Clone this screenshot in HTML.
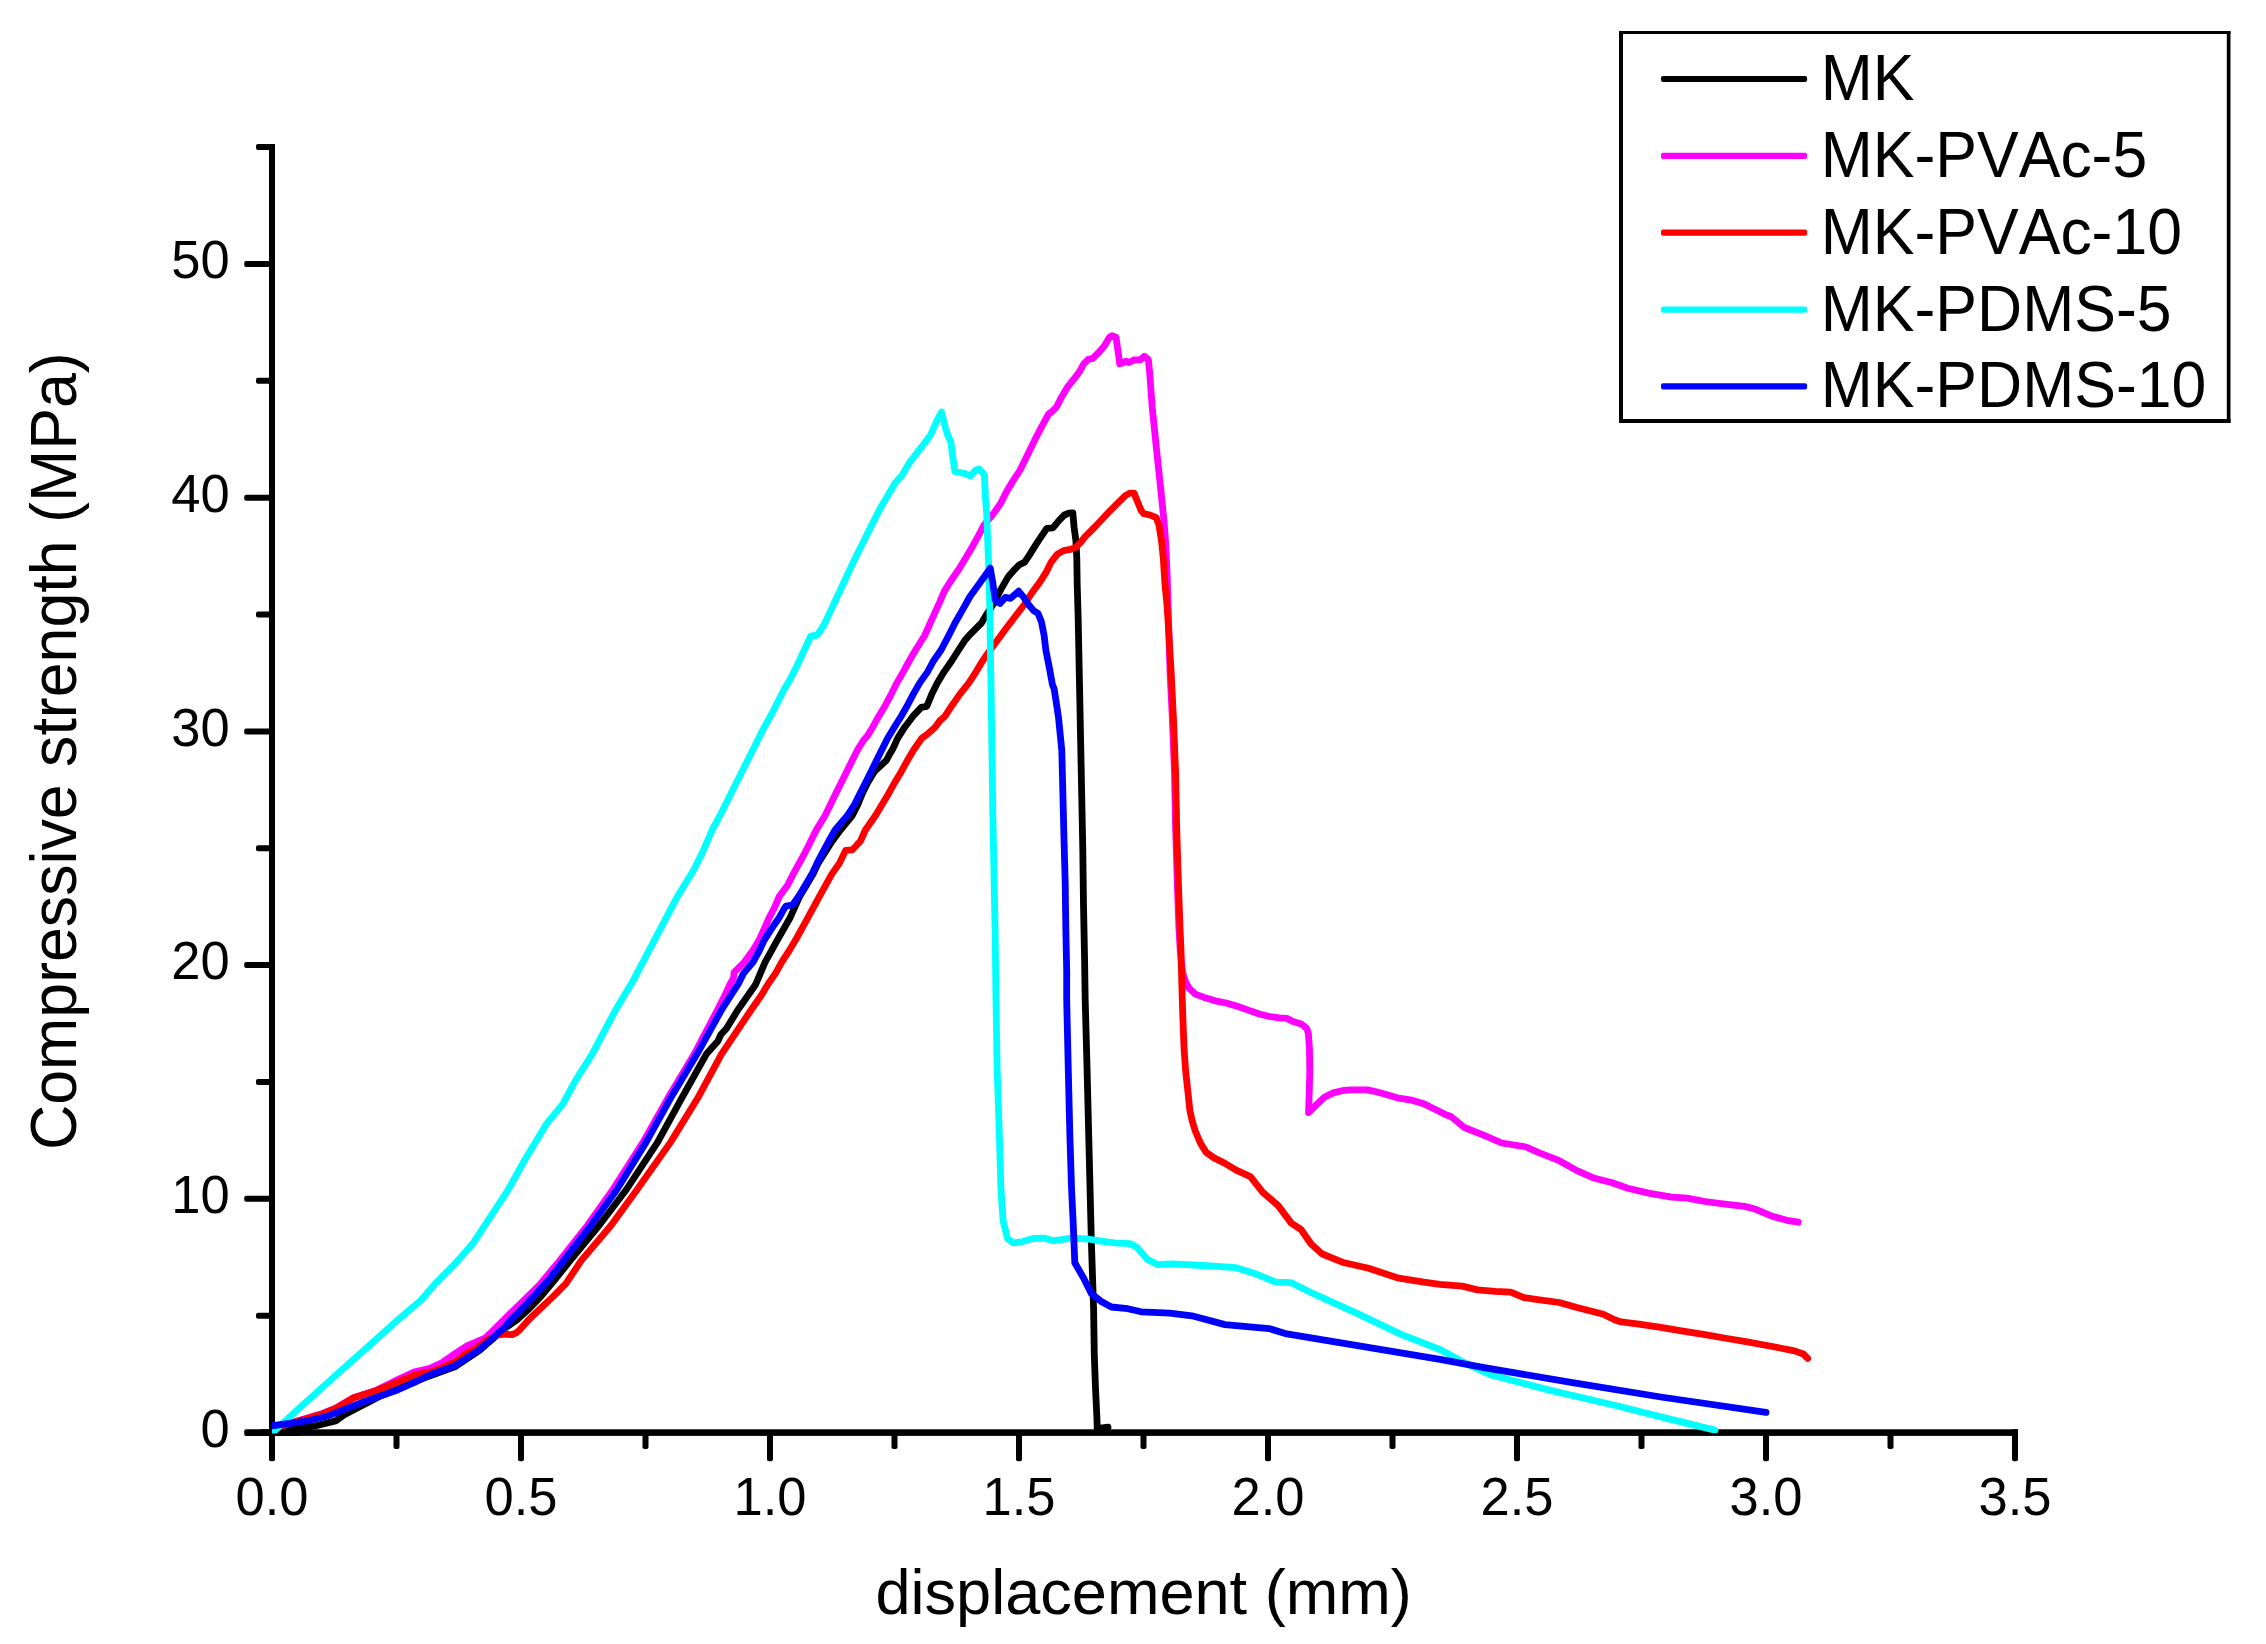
<!DOCTYPE html>
<html lang="en"><head><meta charset="utf-8"><title>Compressive strength vs displacement</title>
<style>html,body{margin:0;padding:0;background:#fff}body{width:2266px;height:1644px;overflow:hidden}svg{display:block}text{font-family:"Liberation Sans",Arial,Helvetica,sans-serif;fill:#000;font-kerning:none}</style>
</head><body>
<svg width="2266" height="1644" viewBox="0 0 2266 1644">
<defs><clipPath id="plot"><rect x="272" y="100" width="1760" height="1333.6"/></clipPath></defs>
<rect x="0" y="0" width="2266" height="1644" fill="#fff"/>
<g fill="#000">
<rect x="269" y="144" width="6" height="1300"/>
<rect x="269.00" y="1400.00" width="6.00" height="61.20" rx="2"/>
<rect x="260" y="1429.30" width="1758" height="6.60"/>
<rect x="244.20" y="1429.30" width="55.80" height="6.60" rx="2"/>
<rect x="256.00" y="1312.73" width="16.00" height="6.00" rx="2"/>
<rect x="244.20" y="1195.86" width="27.80" height="6.00" rx="2"/>
<rect x="256.00" y="1078.99" width="16.00" height="6.00" rx="2"/>
<rect x="244.20" y="962.12" width="27.80" height="6.00" rx="2"/>
<rect x="256.00" y="845.25" width="16.00" height="6.00" rx="2"/>
<rect x="244.20" y="728.38" width="27.80" height="6.00" rx="2"/>
<rect x="256.00" y="611.51" width="16.00" height="6.00" rx="2"/>
<rect x="244.20" y="494.64" width="27.80" height="6.00" rx="2"/>
<rect x="256.00" y="377.77" width="16.00" height="6.00" rx="2"/>
<rect x="244.20" y="260.90" width="27.80" height="6.00" rx="2"/>
<rect x="262.00" y="144.03" width="13.00" height="6.00"/>
<rect x="256.00" y="144.03" width="14.00" height="6.00" rx="2"/>
<rect x="393.50" y="1432.60" width="6.00" height="16.30" rx="2"/>
<rect x="518.00" y="1432.60" width="6.00" height="28.60" rx="2"/>
<rect x="642.50" y="1432.60" width="6.00" height="16.30" rx="2"/>
<rect x="767.00" y="1432.60" width="6.00" height="28.60" rx="2"/>
<rect x="891.50" y="1432.60" width="6.00" height="16.30" rx="2"/>
<rect x="1016.00" y="1432.60" width="6.00" height="28.60" rx="2"/>
<rect x="1140.50" y="1432.60" width="6.00" height="16.30" rx="2"/>
<rect x="1265.00" y="1432.60" width="6.00" height="28.60" rx="2"/>
<rect x="1389.50" y="1432.60" width="6.00" height="16.30" rx="2"/>
<rect x="1514.00" y="1432.60" width="6.00" height="28.60" rx="2"/>
<rect x="1638.50" y="1432.60" width="6.00" height="16.30" rx="2"/>
<rect x="1763.00" y="1432.60" width="6.00" height="28.60" rx="2"/>
<rect x="1887.50" y="1432.60" width="6.00" height="16.30" rx="2"/>
<rect x="2012.00" y="1429.30" width="6.00" height="12.00"/>
<rect x="2012.00" y="1432.60" width="6.00" height="28.60" rx="2"/>
</g>
<g clip-path="url(#plot)" fill="none" stroke-linejoin="round" stroke-linecap="round" stroke-width="6.80">
<path stroke="#000000" d="M270.3 1432.4 L291.5 1429.3 L318.0 1425.3 L335.6 1420.9 L344.4 1414.7 L357.7 1407.7 L366.5 1403.3 L379.7 1396.2 L397.4 1389.1 L415.0 1381.2 L430.0 1375.8 L454.7 1366.8 L479.4 1350.4 L491.8 1339.6 L504.1 1328.8 L510.3 1324.5 L516.5 1320.2 L528.9 1309.0 L541.2 1296.1 L554.5 1280.0 L570.1 1260.6 L599.2 1225.3 L626.1 1190.0 L657.5 1142.4 L681.6 1098.3 L706.4 1054.1 L718.0 1040.9 L720.7 1034.8 L726.3 1028.8 L737.8 1010.0 L755.6 984.5 L765.0 962.4 L777.2 940.3 L789.8 918.3 L794.8 907.2 L799.8 896.2 L806.4 885.2 L813.0 874.1 L818.2 863.1 L825.2 852.1 L832.3 841.0 L840.4 830.0 L852.3 815.5 L857.9 804.5 L862.3 793.4 L867.8 782.4 L874.4 771.4 L886.5 760.3 L889.3 754.8 L892.6 749.3 L897.6 738.3 L904.7 727.2 L913.0 716.2 L921.3 707.4 L926.8 706.3 L931.8 694.1 L937.3 683.1 L943.9 672.1 L951.6 661.0 L958.6 650.0 L964.7 640.6 L970.9 633.6 L981.5 623.0 L986.8 614.1 L993.8 603.5 L1000.9 589.4 L1008.0 577.1 L1015.0 569.1 L1019.4 564.7 L1024.7 562.1 L1030.0 554.1 L1036.2 544.1 L1041.5 536.2 L1046.8 528.3 L1052.9 527.8 L1059.1 520.3 L1064.4 515.0 L1068.8 513.2 L1072.8 512.8 L1074.1 527.4 L1075.9 540.6 L1076.8 558.3 L1077.2 584.7 L1078.1 615.0 L1079.5 684.2 L1080.6 739.4 L1081.7 794.6 L1082.8 849.8 L1083.5 905.0 L1084.6 960.2 L1085.2 1000.0 L1087.0 1066.3 L1089.2 1154.6 L1091.4 1242.9 L1093.6 1309.2 L1094.3 1355.3 L1095.6 1390.6 L1096.9 1417.1 L1097.2 1428.6 L1108.0 1427.2"/>
<path stroke="#ff00ff" d="M270.3 1429.8 L278.2 1426.7 L291.5 1422.8 L307.4 1418.1 L322.4 1413.5 L335.6 1408.2 L353.3 1397.8 L375.3 1390.7 L397.4 1379.9 L415.0 1371.7 L430.0 1368.3 L442.4 1362.5 L454.7 1353.8 L467.1 1345.8 L475.7 1342.1 L485.6 1337.8 L493.0 1330.7 L510.3 1313.4 L530.1 1294.2 L540.0 1284.3 L559.7 1260.6 L587.5 1225.3 L612.6 1190.0 L643.0 1142.4 L667.8 1098.3 L694.3 1054.1 L717.4 1010.0 L724.8 995.5 L729.9 984.5 L733.6 977.8 L734.1 972.3 L744.1 962.4 L752.3 951.4 L759.0 940.3 L768.9 918.3 L774.7 907.2 L779.4 896.2 L787.6 885.2 L793.2 874.1 L805.3 852.1 L816.3 830.0 L825.1 815.5 L835.8 793.4 L846.8 771.4 L852.3 760.3 L857.9 749.3 L863.4 740.5 L867.2 736.1 L872.7 727.2 L878.8 716.2 L885.4 705.2 L891.3 694.1 L896.8 683.1 L903.1 672.1 L909.2 661.0 L915.6 650.0 L924.7 635.5 L929.6 624.5 L934.6 613.4 L939.6 602.4 L944.3 591.4 L951.2 580.3 L958.9 569.3 L965.5 558.3 L972.1 547.2 L978.2 536.2 L984.0 525.2 L993.1 514.1 L1000.8 503.1 L1006.3 492.1 L1012.9 481.0 L1020.1 470.0 L1037.1 435.3 L1043.2 423.9 L1048.5 414.1 L1052.1 411.5 L1056.5 407.1 L1060.9 398.3 L1067.1 387.7 L1074.1 378.8 L1079.4 371.8 L1083.8 363.8 L1088.3 359.4 L1092.7 358.5 L1098.0 353.2 L1104.1 346.2 L1109.4 337.4 L1112.1 335.6 L1116.1 337.4 L1117.4 347.1 L1119.1 358.5 L1119.6 363.8 L1122.7 363.0 L1125.8 361.2 L1128.9 362.5 L1134.1 359.9 L1140.3 359.9 L1144.3 356.3 L1148.3 359.4 L1149.6 371.8 L1150.9 389.4 L1152.2 407.1 L1154.0 424.7 L1155.8 442.4 L1157.1 455.0 L1160.6 487.7 L1162.4 505.3 L1164.2 523.0 L1165.5 540.6 L1166.4 558.3 L1167.2 575.9 L1170.1 673.1 L1172.3 717.3 L1174.5 772.5 L1175.6 827.7 L1177.3 882.9 L1178.9 927.1 L1180.2 950.0 L1181.2 961.0 L1182.6 972.1 L1185.2 980.9 L1188.9 988.1 L1195.3 994.1 L1204.1 997.4 L1215.2 1000.8 L1226.2 1003.0 L1237.2 1006.3 L1248.3 1010.1 L1259.3 1014.0 L1270.3 1016.7 L1279.2 1017.9 L1286.9 1018.4 L1292.4 1021.2 L1301.2 1023.9 L1306.7 1028.3 L1308.4 1033.8 L1309.5 1049.3 L1309.8 1071.4 L1309.2 1093.4 L1308.5 1112.6 L1316.7 1104.5 L1324.4 1097.3 L1333.2 1092.9 L1342.0 1090.7 L1349.8 1089.9 L1367.4 1089.9 L1376.2 1091.8 L1386.2 1094.5 L1397.2 1097.8 L1410.0 1099.8 L1423.8 1103.8 L1445.9 1114.8 L1451.0 1116.5 L1464.3 1127.5 L1484.2 1135.3 L1501.8 1143.0 L1526.1 1147.0 L1539.4 1152.9 L1559.3 1160.7 L1576.9 1170.6 L1594.6 1178.3 L1612.3 1182.8 L1627.7 1188.3 L1649.8 1193.4 L1671.9 1197.1 L1687.3 1198.2 L1705.0 1201.5 L1727.1 1204.4 L1744.8 1206.4 L1755.8 1209.3 L1771.3 1215.9 L1786.7 1220.3 L1798.2 1222.1"/>
<path stroke="#ff0000" d="M270.3 1430.2 L278.2 1427.1 L291.5 1423.1 L307.4 1418.4 L322.4 1413.9 L335.6 1408.6 L353.3 1398.1 L375.3 1391.1 L397.4 1382.1 L415.0 1374.8 L430.0 1372.1 L442.4 1367.7 L454.7 1362.2 L467.1 1352.9 L475.7 1348.9 L485.6 1340.9 L498.0 1335.0 L502.9 1334.4 L507.2 1334.4 L511.6 1334.7 L515.9 1333.1 L519.6 1330.0 L528.9 1319.5 L541.2 1307.8 L553.6 1296.1 L565.9 1283.7 L581.2 1260.6 L611.2 1225.3 L636.8 1190.0 L670.5 1142.4 L697.6 1098.3 L721.5 1054.1 L751.1 1010.0 L761.2 995.5 L767.8 984.5 L775.5 973.4 L781.6 962.4 L788.7 951.4 L795.4 940.3 L807.5 918.3 L819.6 896.2 L831.8 874.1 L839.5 863.1 L845.6 850.4 L852.2 849.9 L855.5 846.5 L860.5 841.0 L865.4 830.0 L875.5 815.5 L882.1 804.5 L888.7 793.4 L894.8 782.4 L901.4 771.4 L907.5 760.3 L914.1 749.3 L921.8 738.3 L927.9 733.8 L935.1 727.2 L940.0 720.6 L945.0 716.2 L952.2 705.2 L959.9 694.1 L968.7 683.1 L975.9 672.1 L982.5 661.0 L990.2 650.0 L996.5 641.5 L1006.2 628.3 L1015.0 616.8 L1023.8 605.3 L1031.8 593.0 L1039.7 582.4 L1045.9 572.7 L1051.2 562.1 L1057.4 554.1 L1063.6 550.6 L1070.6 549.3 L1075.9 547.1 L1081.2 541.8 L1084.7 537.1 L1095.3 526.5 L1107.7 513.2 L1114.7 506.2 L1125.3 495.6 L1129.7 493.1 L1134.1 493.1 L1136.8 500.0 L1141.2 510.6 L1143.9 513.7 L1150.0 515.0 L1156.2 517.7 L1158.9 524.7 L1161.5 540.6 L1163.3 558.3 L1165.0 584.7 L1166.8 602.4 L1167.7 615.0 L1171.2 673.1 L1173.4 717.3 L1175.6 772.5 L1176.7 827.7 L1178.4 882.9 L1180.0 927.1 L1181.0 950.0 L1181.8 983.1 L1182.8 1016.2 L1184.1 1049.3 L1185.7 1071.4 L1188.1 1093.4 L1189.8 1110.0 L1192.2 1121.0 L1195.3 1131.0 L1200.7 1143.6 L1206.2 1152.4 L1214.0 1157.9 L1225.0 1163.4 L1236.1 1170.1 L1250.4 1176.7 L1262.6 1192.1 L1278.0 1205.4 L1291.3 1223.1 L1301.2 1229.7 L1311.1 1244.0 L1322.2 1254.0 L1344.3 1262.8 L1368.6 1268.3 L1397.3 1277.8 L1423.8 1282.2 L1440.0 1284.3 L1462.1 1286.1 L1477.5 1289.9 L1495.2 1291.4 L1510.7 1292.1 L1523.9 1297.6 L1539.4 1299.8 L1559.3 1302.5 L1576.9 1307.5 L1603.4 1314.2 L1614.5 1319.7 L1621.1 1321.9 L1638.8 1324.1 L1660.8 1327.4 L1682.9 1331.2 L1705.0 1334.7 L1727.1 1338.5 L1745.9 1341.6 L1772.4 1346.5 L1794.5 1350.9 L1803.3 1354.0 L1807.7 1358.4"/>
<path stroke="#00ffff" d="M270.3 1434.2 L273.8 1431.5 L300.3 1407.2 L335.6 1375.5 L370.9 1344.1 L397.4 1320.3 L421.2 1300.0 L436.7 1282.1 L455.0 1263.7 L472.7 1243.8 L484.8 1225.3 L496.5 1207.7 L508.0 1190.0 L525.0 1159.5 L547.1 1123.1 L562.6 1104.3 L575.8 1080.0 L592.2 1054.1 L603.8 1032.1 L615.6 1010.0 L632.5 981.8 L654.6 939.8 L676.7 897.8 L693.3 870.8 L702.7 852.1 L712.1 830.0 L720.8 813.9 L742.9 769.8 L762.8 730.0 L773.1 711.3 L784.2 689.2 L790.0 679.8 L796.6 666.5 L804.3 650.0 L810.7 636.2 L817.3 635.1 L823.9 625.1 L839.4 592.0 L854.8 558.9 L872.5 523.6 L880.3 508.3 L895.3 482.7 L901.9 475.6 L908.5 464.1 L916.5 453.5 L925.3 442.1 L930.6 435.0 L936.8 420.9 L941.6 412.1 L944.7 425.3 L947.4 434.1 L950.9 442.1 L952.7 456.2 L954.9 471.6 L959.7 472.5 L965.9 473.8 L970.3 476.1 L975.6 470.3 L979.2 469.0 L984.4 474.7 L985.3 495.9 L986.7 513.6 L987.5 535.0 L989.0 575.3 L989.9 610.6 L990.3 645.9 L991.0 685.0 L992.9 818.3 L995.1 928.8 L996.0 1000.0 L997.1 1066.3 L999.3 1132.5 L1000.9 1187.7 L1003.1 1220.8 L1007.5 1238.5 L1013.0 1242.9 L1021.8 1241.8 L1032.9 1238.5 L1043.9 1238.1 L1052.8 1240.7 L1061.6 1239.6 L1070.4 1238.1 L1088.1 1239.0 L1101.3 1241.2 L1114.6 1242.9 L1130.1 1243.6 L1136.7 1247.3 L1147.7 1259.5 L1157.7 1264.6 L1172.0 1263.9 L1202.9 1265.5 L1236.1 1267.7 L1255.9 1273.9 L1275.8 1282.2 L1291.3 1282.7 L1313.4 1293.7 L1357.5 1313.6 L1401.7 1334.6 L1440.0 1349.5 L1462.1 1361.6 L1490.8 1374.9 L1550.4 1390.4 L1616.7 1405.8 L1660.8 1416.9 L1715.0 1430.1"/>
<path stroke="#0000ff" d="M270.3 1426.0 L291.5 1423.1 L309.1 1420.5 L326.8 1416.3 L344.4 1409.4 L362.1 1402.4 L379.7 1396.2 L397.4 1390.0 L415.0 1382.1 L430.0 1374.8 L454.7 1365.9 L479.4 1349.5 L491.8 1338.7 L504.1 1327.9 L510.0 1320.8 L534.1 1295.9 L548.6 1280.0 L563.6 1260.6 L591.0 1225.3 L616.6 1190.0 L646.0 1142.4 L670.5 1098.3 L697.0 1054.1 L721.5 1010.0 L730.8 995.5 L738.0 984.5 L743.5 973.4 L752.9 962.4 L759.0 951.4 L764.1 940.3 L771.1 929.3 L778.8 918.3 L783.8 909.4 L786.0 906.1 L792.6 905.0 L798.7 896.2 L805.3 885.2 L811.9 874.1 L817.1 863.1 L822.9 852.1 L828.8 841.0 L835.1 830.0 L847.4 815.5 L854.5 804.5 L860.1 793.4 L865.6 782.4 L871.1 771.4 L876.6 760.3 L882.1 749.3 L887.6 738.3 L894.3 727.2 L901.2 716.2 L907.5 705.2 L913.3 694.1 L919.6 683.1 L927.4 672.1 L933.4 661.0 L941.1 650.0 L948.8 635.3 L955.0 623.0 L962.1 610.6 L970.0 596.5 L977.1 586.8 L984.1 577.1 L990.3 568.2 L993.0 584.1 L995.2 600.0 L1000.0 603.5 L1005.3 597.4 L1010.6 598.3 L1018.6 591.2 L1023.8 597.4 L1029.1 605.3 L1033.6 610.6 L1038.0 613.3 L1041.5 622.1 L1044.1 635.3 L1045.9 650.3 L1049.4 668.0 L1052.5 685.0 L1054.1 688.6 L1058.5 717.3 L1061.8 750.4 L1062.9 794.6 L1064.0 838.8 L1065.2 882.9 L1065.8 927.1 L1066.7 971.3 L1066.7 1000.0 L1068.2 1066.3 L1069.8 1132.5 L1071.5 1187.7 L1073.1 1220.8 L1074.8 1262.8 L1083.7 1278.3 L1091.4 1293.7 L1101.3 1301.5 L1111.3 1307.0 L1127.8 1308.7 L1141.1 1311.8 L1169.8 1313.2 L1191.9 1315.8 L1225.0 1324.6 L1269.2 1328.6 L1286.9 1333.9 L1357.5 1345.6 L1440.0 1359.4 L1484.2 1367.6 L1572.5 1382.6 L1660.8 1397.0 L1766.0 1412.4"/>
</g>
<text transform="translate(229.60 1446.90) scale(1 1.020)" font-size="52.50" text-anchor="end">0</text>
<text transform="translate(229.60 1213.16) scale(1 1.020)" font-size="52.50" text-anchor="end">10</text>
<text transform="translate(229.60 979.42) scale(1 1.020)" font-size="52.50" text-anchor="end">20</text>
<text transform="translate(229.60 745.68) scale(1 1.020)" font-size="52.50" text-anchor="end">30</text>
<text transform="translate(229.60 511.94) scale(1 1.020)" font-size="52.50" text-anchor="end">40</text>
<text transform="translate(229.60 278.20) scale(1 1.020)" font-size="52.50" text-anchor="end">50</text>
<text transform="translate(272.00 1515.40) scale(1 1.020)" font-size="52.50" text-anchor="middle">0.0</text>
<text transform="translate(521.00 1515.40) scale(1 1.020)" font-size="52.50" text-anchor="middle">0.5</text>
<text transform="translate(770.00 1515.40) scale(1 1.020)" font-size="52.50" text-anchor="middle">1.0</text>
<text transform="translate(1019.00 1515.40) scale(1 1.020)" font-size="52.50" text-anchor="middle">1.5</text>
<text transform="translate(1268.00 1515.40) scale(1 1.020)" font-size="52.50" text-anchor="middle">2.0</text>
<text transform="translate(1517.00 1515.40) scale(1 1.020)" font-size="52.50" text-anchor="middle">2.5</text>
<text transform="translate(1766.00 1515.40) scale(1 1.020)" font-size="52.50" text-anchor="middle">3.0</text>
<text transform="translate(2015.00 1515.40) scale(1 1.020)" font-size="52.50" text-anchor="middle">3.5</text>
<text transform="translate(1143.60 1613.50)" font-size="63.10" text-anchor="middle">displacement (mm)</text>
<text transform="translate(76.20 751.20) rotate(-90) scale(1 1.040)" font-size="62.70" text-anchor="middle">Compressive strength (MPa)</text>
<rect x="1619" y="31" width="611.5" height="392" fill="#fff"/>
<g fill="#000"><rect x="1619" y="31" width="611.5" height="3"/><rect x="1619" y="419" width="611.5" height="4"/><rect x="1619" y="31" width="4" height="392"/><rect x="2226.8" y="31" width="3.7" height="392"/></g>
<rect x="1661" y="75.90" width="146.1" height="6.2" rx="2" fill="#000000"/>
<text transform="translate(1820.80 99.80) scale(1 1.040)" font-size="62.50" text-anchor="start">MK</text>
<rect x="1661" y="152.75" width="146.1" height="6.2" rx="2" fill="#ff00ff"/>
<text transform="translate(1820.80 176.70) scale(1 1.040)" font-size="62.50" text-anchor="start">MK-PVAc-5</text>
<rect x="1661" y="229.60" width="146.1" height="6.2" rx="2" fill="#ff0000"/>
<text transform="translate(1820.80 253.60) scale(1 1.040)" font-size="62.50" text-anchor="start">MK-PVAc-10</text>
<rect x="1661" y="306.45" width="146.1" height="6.2" rx="2" fill="#00ffff"/>
<text transform="translate(1820.80 330.50) scale(1 1.040)" font-size="62.50" text-anchor="start">MK-PDMS-5</text>
<rect x="1661" y="383.30" width="146.1" height="6.2" rx="2" fill="#0000ff"/>
<text transform="translate(1820.80 407.40) scale(1 1.040)" font-size="62.50" text-anchor="start">MK-PDMS-10</text>
</svg></body></html>
